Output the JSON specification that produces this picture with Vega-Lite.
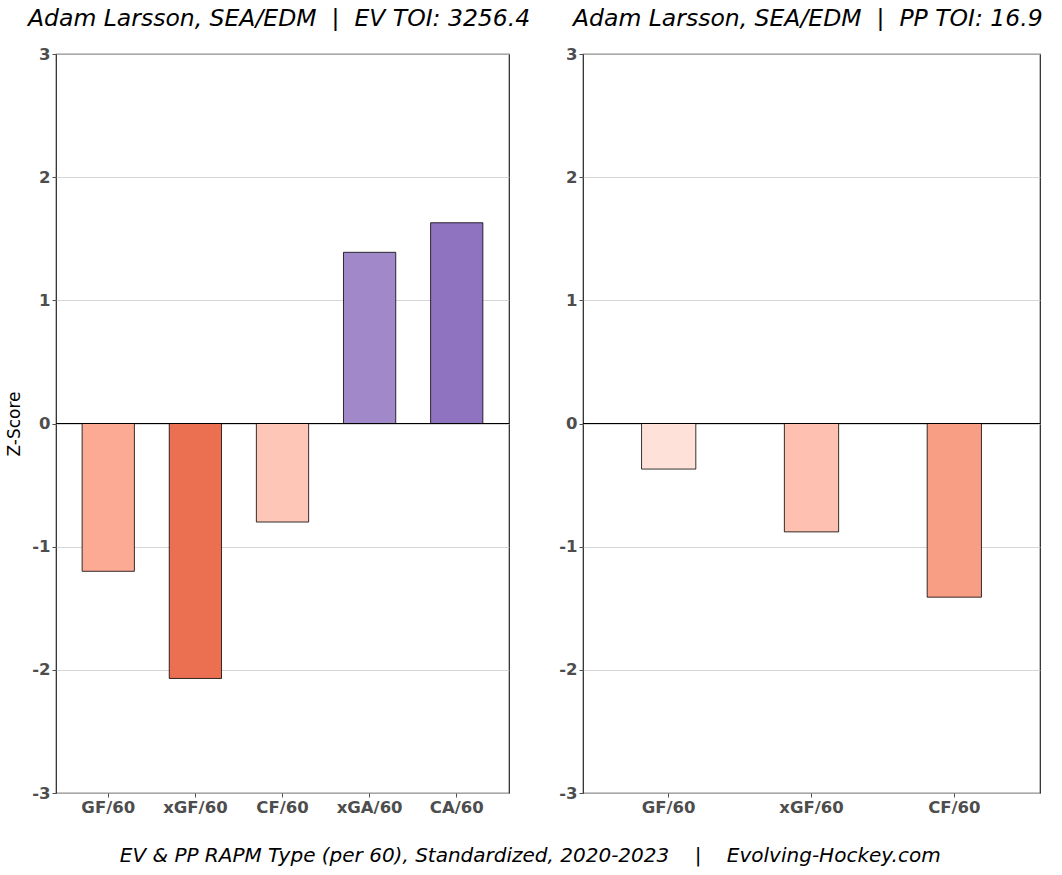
{
  "$schema": "https://vega.github.io/schema/vega-lite/v6.json",
  "padding": {"left": 5, "top": 5, "right": 5, "bottom": 5},
  "background": "white",
  "config": {
    "font": "DejaVu Sans",
    "view": {"stroke": "#222222", "strokeWidth": 1.2},
    "title": {"font": "DejaVu Sans", "fontStyle": "italic", "fontWeight": "normal", "color": "black"}
  },
  "title": {
    "text": "EV & PP RAPM Type (per 60), Standardized, 2020-2023\u00a0\u00a0\u00a0\u00a0|\u00a0\u00a0\u00a0\u00a0Evolving-Hockey.com",
    "orient": "bottom",
    "anchor": "middle",
    "fontSize": 20,
    "offset": 30,
    "dx": 6
  },
  "spacing": 27,
  "resolve": {"scale": {"color": "independent"}},
  "hconcat": [
    {
      "width": 453,
      "height": 739,
      "title": {"text": "Adam Larsson, SEA/EDM\u00a0\u00a0|\u00a0\u00a0EV TOI: 3256.4", "anchor": "start", "frame": "group", "dx": -28, "fontSize": 23.5, "offset": 16},
      "data": {"values": [
        {"metric": "GF/60", "z": -1.20},
        {"metric": "xGF/60", "z": -2.07},
        {"metric": "CF/60", "z": -0.80},
        {"metric": "xGA/60", "z": 1.39},
        {"metric": "CA/60", "z": 1.63}
      ]},
      "layer": [
        {
          "mark": {"type": "bar", "stroke": "black", "strokeWidth": 0.8},
          "encoding": {
            "x": {"field": "metric", "type": "nominal", "sort": null,
              "scale": {"paddingInner": 0.4, "paddingOuter": 0.3},
              "axis": {"title": null, "labelAngle": 0, "labelFontSize": 16.5, "labelFontWeight": "bold", "labelColor": "#4d4d4d", "tickColor": "#4d4d4d", "tickSize": 4, "domain": false, "labelPadding": 2}},
            "y": {"field": "z", "type": "quantitative",
              "scale": {"domain": [-3, 3], "nice": false},
              "axis": {"title": "Z-Score", "titleFontSize": 17, "titleFontWeight": "normal", "titleColor": "black", "titlePadding": 8,
                "values": [-3, -2, -1, 0, 1, 2, 3],
                "labelExpr": "datum.value < 0 ? '-' + abs(datum.value) : '' + datum.value",
                "labelFontSize": 16.5, "labelFontWeight": "bold", "labelColor": "#4d4d4d", "tickColor": "#4d4d4d", "tickSize": 4, "domain": false,
                "grid": true, "gridColor": "#cccccc", "gridWidth": 0.8}},
            "color": {"field": "metric", "type": "nominal", "legend": null,
              "scale": {"domain": ["GF/60", "xGF/60", "CF/60", "xGA/60", "CA/60"],
                "range": ["#fcaa93", "#eb6f51", "#fec6b7", "#a088c9", "#8f72c0"]}}
          }
        },
        {
          "mark": {"type": "rule", "color": "black", "strokeWidth": 1},
          "encoding": {"y": {"datum": 0}}
        }
      ]
    },
    {
      "width": 457,
      "height": 739,
      "title": {"text": "Adam Larsson, SEA/EDM\u00a0\u00a0|\u00a0\u00a0PP TOI: 16.9", "anchor": "start", "frame": "group", "dx": -10, "fontSize": 23.5, "offset": 16},
      "data": {"values": [
        {"metric": "GF/60", "z": -0.37},
        {"metric": "xGF/60", "z": -0.88},
        {"metric": "CF/60", "z": -1.41}
      ]},
      "layer": [
        {
          "mark": {"type": "bar", "stroke": "black", "strokeWidth": 0.8},
          "encoding": {
            "x": {"field": "metric", "type": "nominal", "sort": null,
              "scale": {"paddingInner": 0.62, "paddingOuter": 0.41},
              "axis": {"title": null, "labelAngle": 0, "labelFontSize": 16.5, "labelFontWeight": "bold", "labelColor": "#4d4d4d", "tickColor": "#4d4d4d", "tickSize": 4, "domain": false, "labelPadding": 2}},
            "y": {"field": "z", "type": "quantitative",
              "scale": {"domain": [-3, 3], "nice": false},
              "axis": {"title": null,
                "values": [-3, -2, -1, 0, 1, 2, 3],
                "labelExpr": "datum.value < 0 ? '-' + abs(datum.value) : '' + datum.value",
                "labelFontSize": 16.5, "labelFontWeight": "bold", "labelColor": "#4d4d4d", "tickColor": "#4d4d4d", "tickSize": 4, "domain": false,
                "grid": true, "gridColor": "#cccccc", "gridWidth": 0.8}},
            "color": {"field": "metric", "type": "nominal", "legend": null,
              "scale": {"domain": ["GF/60", "xGF/60", "CF/60"],
                "range": ["#fee2da", "#fec0b0", "#f89e84"]}}
          }
        },
        {
          "mark": {"type": "rule", "color": "black", "strokeWidth": 1},
          "encoding": {"y": {"datum": 0}}
        }
      ]
    }
  ]
}
